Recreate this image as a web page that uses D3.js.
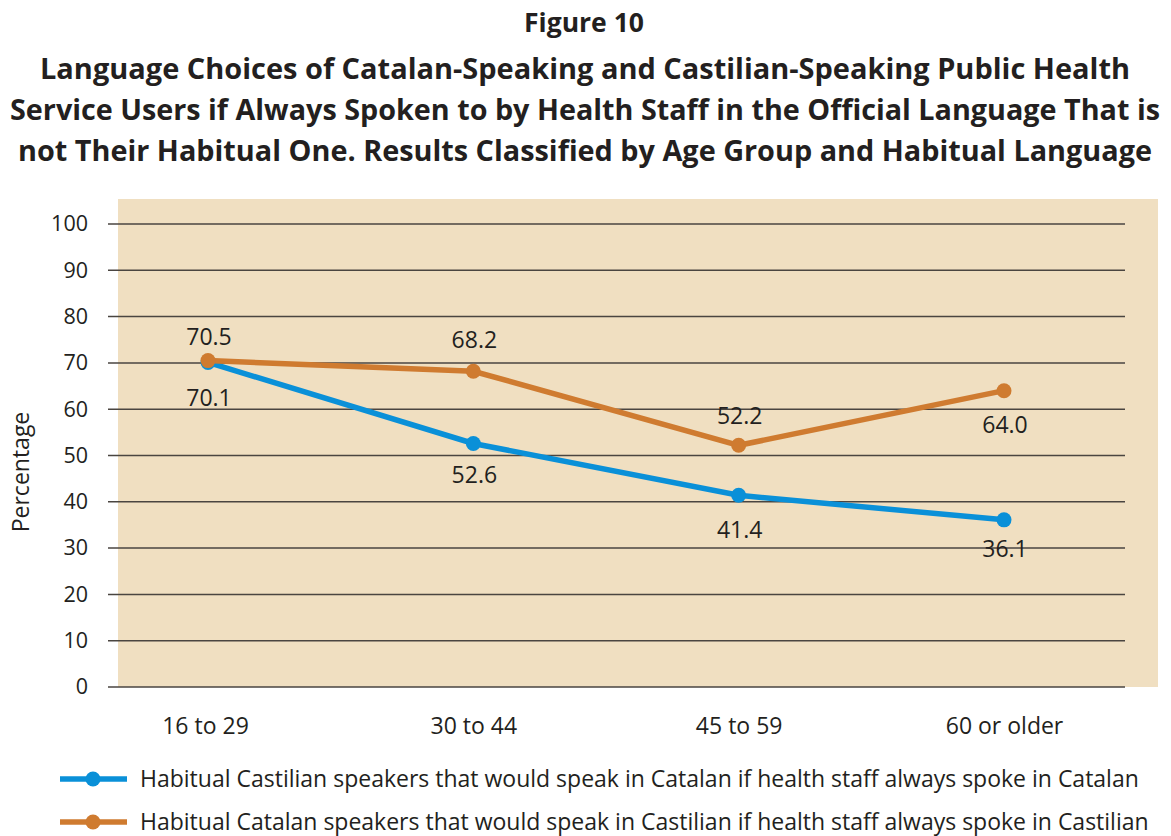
<!DOCTYPE html>
<html><head><meta charset="utf-8">
<script src="https://cdn.jsdelivr.net/npm/d3@7"></script>
<style>body{margin:0;background:#fff;}svg{display:block;}</style>
</head><body>
<svg id="c" width="1171" height="836"></svg>
<script>
const categories = ["16 to 29", "30 to 44", "45 to 59", "60 or older"];
const castilianValues = [70.1, 52.6, 41.4, 36.1];
const catalanValues = [70.5, 68.2, 52.2, 64.0];
const yTicks = [0,10,20,30,40,50,60,70,80,90,100];
const seriesNames = [
  "Habitual Castilian speakers that would speak in Catalan if health staff always spoke in Catalan",
  "Habitual Catalan speakers that would speak in Castilian if health staff always spoke in Castilian"
];
const figureLabel = "Figure 10";
const titleLines = [
  "Language Choices of Catalan-Speaking and Castilian-Speaking Public Health",
  "Service Users if Always Spoken to by Health Staff in the Official Language That is",
  "not Their Habitual One. Results Classified by Age Group and Habitual Language"
];

// layout (not data): label baseline offsets from points in px
const castilianLabelDy = [44, 40, 43, 37];
const catalanLabelDy = [-16, -23, -21, 42];
const titleWidths = [1090, 1150, 1134];

const FONT = "'Open Sans', 'Noto Sans', sans-serif";
const svg = d3.select("#c");
const blue = "#0a90d8", orange = "#cf7b30", ink = "#231f20";

svg.append("text").attr("x", 584).attr("y", 32).attr("text-anchor","middle")
  .attr("font-family", FONT).attr("font-weight","bold").attr("font-size", 27).attr("fill",ink)
  .attr("textLength",120).attr("lengthAdjust","spacingAndGlyphs").text(figureLabel);
titleLines.forEach((t,i)=>{
  svg.append("text").attr("x", 585).attr("y", 79 + i*41).attr("text-anchor","middle")
    .attr("font-family", FONT).attr("font-weight","bold").attr("font-size", 28).attr("fill",ink)
    .attr("textLength", titleWidths[i]).attr("lengthAdjust","spacingAndGlyphs").text(t);
});

const y = d3.scaleLinear().domain([0,100]).range([687,224]);
const x = d3.scalePoint().domain(categories).range([208,1004]);

svg.append("rect").attr("x",118).attr("y",199).attr("width",1040).attr("height",488).attr("fill","#f0dfc1");

const yAxis = svg.append("g").attr("transform","translate(108,0)")
  .call(d3.axisLeft(y).tickValues(yTicks).tickSize(0).tickPadding(20).tickFormat(d3.format("d")));
yAxis.select(".domain").remove();
yAxis.selectAll("text").attr("font-family",FONT).attr("font-size",21.5).attr("fill",ink);

svg.append("g").selectAll("line").data(yTicks).join("line")
  .attr("x1",108).attr("x2",1125).attr("y1",d=>y(d)).attr("y2",d=>y(d))
  .attr("stroke","#4a4540").attr("stroke-width",1.5);

const xAxis = svg.append("g").attr("transform","translate(0,687)")
  .call(d3.axisBottom(x).tickSize(0).tickPadding(31));
xAxis.select(".domain").remove();
xAxis.selectAll("text").attr("font-family",FONT).attr("font-size",23).attr("fill",ink)
  .attr("dx", (d,i)=> i===0 ? -3 : 0);

svg.append("text").attr("transform","translate(29,472) rotate(-90)").attr("text-anchor","middle")
  .attr("font-family",FONT).attr("font-size",23).attr("fill",ink).text("Percentage");

const line = d3.line().x((d,i)=>x(categories[i])).y(d=>y(d));
function drawSeries(vals, color, dys){
  svg.append("path").datum(vals).attr("d",line).attr("fill","none").attr("stroke",color).attr("stroke-width",5.5);
  svg.append("g").selectAll("circle").data(vals).join("circle")
    .attr("cx",(d,i)=>x(categories[i])).attr("cy",d=>y(d)).attr("r",7.5).attr("fill",color);
  svg.append("g").selectAll("text").data(vals).join("text")
    .attr("x",(d,i)=>x(categories[i]) + 1).attr("y",(d,i)=>y(d) + dys[i])
    .attr("text-anchor","middle").attr("font-family",FONT).attr("font-size",23).attr("fill",ink)
    .text(d=>d3.format(".1f")(d));
}
drawSeries(castilianValues, blue, castilianLabelDy);
drawSeries(catalanValues, orange, catalanLabelDy);

const legend = svg.append("g");
[blue, orange].forEach((c,i)=>{
  const ly = 779 + i*43;
  legend.append("line").attr("x1",60).attr("x2",127).attr("y1",ly).attr("y2",ly).attr("stroke",c).attr("stroke-width",5.5);
  legend.append("circle").attr("cx",93).attr("cy",ly).attr("r",7.5).attr("fill",c);
  legend.append("text").attr("x",140).attr("y",ly+8).attr("font-family",FONT).attr("font-size",23).attr("fill",ink)
    .text(seriesNames[i]);
});
</script>
</body></html>
